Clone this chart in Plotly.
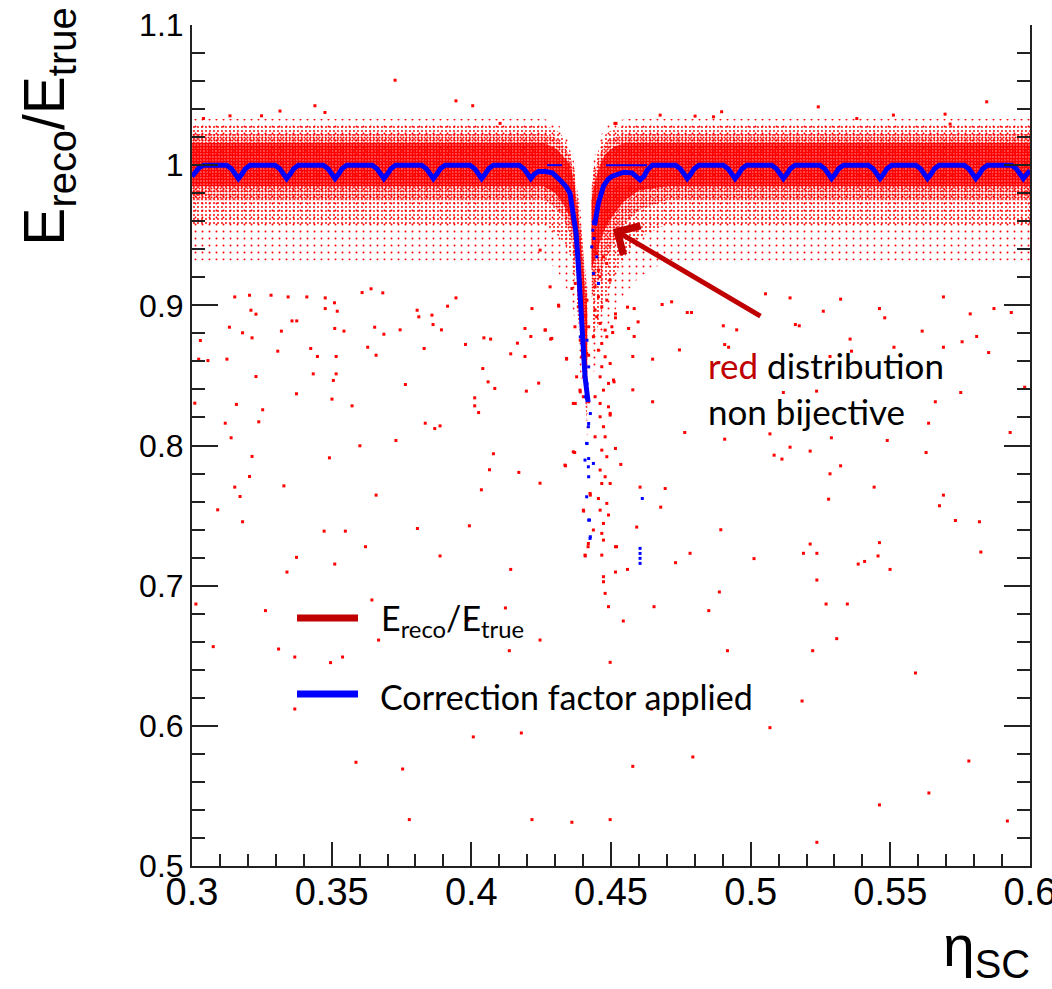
import plotly.graph_objects as go

# ---------------- data ----------------
# red dense band, left of the crack: eta and band edges for 4 density layers
band_eta_L = [0.300, 0.426, 0.430, 0.433, 0.4355, 0.437, 0.4385, 0.440, 0.4415]
core_top_L = [1.016, 1.016, 1.012, 1.006, 1.000, 0.985, 0.960, 0.930, 0.895]
core_bot_L = [0.985, 0.985, 0.980, 0.972, 0.962, 0.945, 0.905, 0.870, 0.835]
med_top_L = [1.022, 1.022, 1.020, 1.014, 1.006, 0.992, 0.968, 0.940, 0.905]
med_bot_L = [0.975, 0.975, 0.970, 0.962, 0.950, 0.932, 0.895, 0.860, 0.825]
sp_top_L = [1.028, 1.028, 1.026, 1.020, 1.010, 0.996, 0.975, 0.945, 0.910]
sp_bot_L = [0.958, 0.958, 0.952, 0.945, 0.935, 0.918, 0.885, 0.850, 0.815]
vs_top_L = [1.033, 1.033, 1.031, 1.025, 1.014, 1.000, 0.980, 0.950, 0.915]
vs_bot_L = [0.932, 0.932, 0.927, 0.917, 0.905, 0.890, 0.864, 0.834, 0.804]

# red dense band, right of the crack
band_eta_R = [0.4430, 0.4445, 0.446, 0.448, 0.451, 0.455, 0.460, 0.470, 0.600]
core_top_R = [0.975, 0.990, 1.000, 1.008, 1.013, 1.016, 1.016, 1.016, 1.016]
core_bot_R = [0.925, 0.935, 0.945, 0.955, 0.965, 0.975, 0.982, 0.985, 0.985]
med_top_R = [0.985, 0.998, 1.008, 1.016, 1.020, 1.022, 1.022, 1.022, 1.022]
med_bot_R = [0.905, 0.912, 0.920, 0.932, 0.945, 0.958, 0.968, 0.975, 0.975]
sp_top_R = [0.990, 1.004, 1.014, 1.022, 1.026, 1.028, 1.028, 1.028, 1.028]
sp_bot_R = [0.875, 0.880, 0.890, 0.905, 0.920, 0.935, 0.948, 0.958, 0.958]
vs_top_R = [0.995, 1.010, 1.020, 1.027, 1.031, 1.033, 1.033, 1.033, 1.033]
vs_bot_R = [0.850, 0.855, 0.865, 0.880, 0.895, 0.908, 0.920, 0.932, 0.932]

# isolated red points, left half (below the band)
red_left_eta = [0.3153, 0.3206, 0.3283, 0.3344, 0.3411, 0.3477, 0.3510, 0.3609, 0.3641, 0.3683,
                0.3945, 0.3915, 0.4313, 0.4217, 0.3211, 0.3229, 0.3477, 0.3520, 0.3358, 0.3375,
                0.3806, 0.3812, 0.3859, 0.3863, 0.3134, 0.3181, 0.3320, 0.3511, 0.3544, 0.3654,
                0.3687, 0.3745, 0.3893, 0.4192, 0.4265, 0.3030, 0.3215, 0.3425, 0.3629, 0.3831,
                0.3979, 0.4045, 0.4069, 0.4165, 0.4213, 0.4284, 0.3024, 0.3057, 0.3125, 0.3307,
                0.3449, 0.3516, 0.3659, 0.4141, 0.4192, 0.4341, 0.3229, 0.3434, 0.3516, 0.3506,
                0.3764, 0.4041, 0.4060, 0.4084, 0.4197, 0.4241, 0.3374, 0.3501, 0.3573, 0.3159,
                0.3010, 0.3253, 0.4012, 0.4012, 0.4026, 0.3119, 0.3239, 0.3835, 0.3869, 0.3888,
                0.3140, 0.3730, 0.3601, 0.3215, 0.3492, 0.4079, 0.3206, 0.4065, 0.4170, 0.4246,
                0.4337, 0.3153, 0.3329, 0.3172, 0.3659, 0.4036, 0.3092, 0.3181, 0.3473, 0.3549,
                0.3807, 0.3993, 0.3621, 0.3374, 0.3511, 0.3888, 0.3340, 0.4141, 0.3014, 0.3263,
                0.3644, 0.3988, 0.4122, 0.3076, 0.3310, 0.3368, 0.3496, 0.3539, 0.3668, 0.4136,
                0.4246, 0.3368, 0.4007, 0.4179, 0.3587, 0.3754, 0.3778, 0.4217, 0.4360]
red_left_val = [0.9060, 0.9072, 0.9072, 0.9060, 0.9060, 0.9053, 0.9018, 0.9091, 0.9118, 0.9089,
                0.9053, 0.8994, 0.8994, 0.8977, 0.8965, 0.8937, 0.8977, 0.8958, 0.8889, 0.8889,
                0.8965, 0.8918, 0.8930, 0.8863, 0.8844, 0.8804, 0.8816, 0.8835, 0.8816, 0.8844,
                0.8794, 0.8825, 0.8825, 0.8835, 0.8825, 0.8749, 0.8768, 0.8692, 0.8701, 0.8692,
                0.8721, 0.8768, 0.8759, 0.8730, 0.8778, 0.8759, 0.8616, 0.8606, 0.8616, 0.8673,
                0.8635, 0.8635, 0.8644, 0.8654, 0.8635, 0.8616, 0.8492, 0.8511, 0.8511, 0.8464,
                0.8435, 0.8549, 0.8454, 0.8407, 0.8388, 0.8445, 0.8369, 0.8331, 0.8283, 0.8293,
                0.8302, 0.8255, 0.8340, 0.8283, 0.8235, 0.8159, 0.8169, 0.8159, 0.8121, 0.8140,
                0.8055, 0.8036, 0.7998, 0.7922, 0.7912, 0.7941, 0.7779, 0.7827, 0.7808, 0.7731,
                0.7855, 0.7703, 0.7712, 0.7636, 0.7646, 0.7684, 0.7541, 0.7456, 0.7389, 0.7389,
                0.7408, 0.7427, 0.7278, 0.7202, 0.7154, 0.7212, 0.7097, 0.7116, 0.6869, 0.6822,
                0.6898, 0.6755, 0.6841, 0.6565, 0.6548, 0.6491, 0.6451, 0.6491, 0.6612, 0.6536,
                0.6612, 0.6120, 0.5921, 0.5949, 0.5740, 0.5692, 0.5331, 0.5331, 0.5312]

# isolated red points around the crack
red_crack_eta = [0.4390, 0.4408, 0.4396, 0.4420, 0.4390, 0.4408, 0.4420, 0.4396, 0.4402, 0.4390,
                 0.4414, 0.4372, 0.4420, 0.4370, 0.4426, 0.4402, 0.4372, 0.4384, 0.4360, 0.4414,
                 0.4408, 0.4418, 0.4449, 0.4473, 0.4485, 0.4455, 0.4461, 0.4497, 0.4443, 0.4455,
                 0.4467, 0.4485, 0.4443, 0.4449, 0.4461, 0.4479, 0.4503, 0.4437, 0.4467, 0.4485,
                 0.4455, 0.4479, 0.4497, 0.4467, 0.4461, 0.4491, 0.4509, 0.4473, 0.4443, 0.4461,
                 0.4491, 0.4461, 0.4497, 0.4473, 0.4443, 0.4479, 0.4467, 0.4485, 0.4461, 0.4479,
                 0.4467, 0.4497, 0.4455, 0.4485, 0.4461, 0.4491, 0.4473, 0.4467, 0.4473, 0.4437,
                 0.4467, 0.4473, 0.4473, 0.4479, 0.4491, 0.4520, 0.4365, 0.4389, 0.4401, 0.4377,
                 0.4413, 0.4401, 0.4395, 0.4383, 0.4371, 0.4246, 0.4264, 0.4282, 0.4288, 0.4341,
                 0.4312, 0.4335, 0.4365, 0.4425, 0.4401, 0.4419, 0.4407]
red_crack_val = [0.8989, 0.8930, 0.8894, 0.8847, 0.8751, 0.8704, 0.8644, 0.8633, 0.8490, 0.8383,
                 0.8371, 0.8300, 0.8312, 0.7950, 0.7646, 0.7532, 0.9156, 0.9108, 0.9120, 0.9037,
                 0.7212, 0.7278, 0.9370, 0.9346, 0.9299, 0.9251, 0.9204, 0.9180, 0.9132, 0.9061,
                 0.8990, 0.9037, 0.8966, 0.8918, 0.8871, 0.8823, 0.8847, 0.8776, 0.8728, 0.8776,
                 0.8680, 0.8633, 0.8585, 0.8562, 0.8490, 0.8443, 0.8467, 0.8395, 0.8348, 0.8300,
                 0.8276, 0.8205, 0.8229, 0.8134, 0.8062, 0.8062, 0.7967, 0.7920, 0.7825, 0.7777,
                 0.7729, 0.7729, 0.7622, 0.7587, 0.7539, 0.7504, 0.7444, 0.7373, 0.7325, 0.7397,
                 0.7218, 0.7064, 0.7028, 0.6945, 0.6850, 0.7278, 0.8300, 0.8395, 0.8348, 0.8490,
                 0.8657, 0.8752, 0.8871, 0.8990, 0.8847, 0.9394, 0.8823, 0.9132, 0.8764, 0.8621,
                 0.9001, 0.7860, 0.7955, 0.7658, 0.7539, 0.7301, 0.7218]

# isolated red points, right half (below the band)
red_right_eta = [0.5690, 0.5461, 0.5322, 0.5260, 0.5141, 0.5053, 0.4773, 0.4788, 0.4717, 0.4683,
                 0.4559, 0.4583, 0.4516, 0.4516, 0.4597, 0.4563, 0.4506, 0.4583, 0.4902, 0.4950,
                 0.5160, 0.5174, 0.5480, 0.5786, 0.5871, 0.5933, 0.5356, 0.5513, 0.5690, 0.5809,
                 0.5757, 0.5614, 0.4907, 0.4921, 0.4745, 0.4649, 0.4578, 0.4511, 0.5361, 0.5284,
                 0.5852, 0.5981, 0.4649, 0.4578, 0.5117, 0.5236, 0.5752, 0.5661, 0.4497, 0.4764,
                 0.4907, 0.5069, 0.5289, 0.5489, 0.5637, 0.5929, 0.4516, 0.4535, 0.5141, 0.5213,
                 0.5084, 0.5112, 0.5322, 0.5284, 0.5628, 0.5442, 0.4604, 0.4694, 0.4678, 0.4592,
                 0.4893, 0.5279, 0.5690, 0.5676, 0.5733, 0.5819, 0.4516, 0.4559, 0.4516, 0.4731,
                 0.4783, 0.5012, 0.5189, 0.5213, 0.5237, 0.5237, 0.5385, 0.5408, 0.5456, 0.5461,
                 0.5499, 0.5824, 0.4888, 0.4654, 0.4850, 0.4544, 0.5270, 0.5346, 0.5308, 0.4917,
                 0.5222, 0.4497, 0.5590, 0.5184, 0.4645, 0.5069, 0.4793, 0.4578, 0.5781, 0.5638,
                 0.5461, 0.4497, 0.5919, 0.5237]
red_right_val = [0.9060, 0.8977, 0.9044, 0.8958, 0.9053, 0.9082, 0.8949, 0.8949, 0.9025, 0.9006,
                 0.8987, 0.8977, 0.8939, 0.8911, 0.8882, 0.8835, 0.8806, 0.8778, 0.8854, 0.8825,
                 0.8863, 0.8854, 0.8911, 0.8939, 0.8977, 0.8949, 0.8759, 0.8701, 0.8701, 0.8778,
                 0.8740, 0.8816, 0.8720, 0.8701, 0.8682, 0.8616, 0.8635, 0.8454, 0.8673, 0.8635,
                 0.8663, 0.8416, 0.8312, 0.8397, 0.8378, 0.8388, 0.8378, 0.8312, 0.8217, 0.8093,
                 0.8045, 0.8083, 0.8055, 0.8036, 0.8159, 0.8093, 0.7979, 0.7865, 0.7988, 0.7960,
                 0.7931, 0.7903, 0.7855, 0.7798, 0.7950, 0.7703, 0.7703, 0.7693, 0.7560, 0.7418,
                 0.7399, 0.7617, 0.7646, 0.7570, 0.7465, 0.7456, 0.7278, 0.7116, 0.7097, 0.7164,
                 0.7231, 0.7193, 0.7231, 0.7297, 0.7231, 0.7040, 0.7154, 0.7173, 0.7212, 0.7307,
                 0.7116, 0.7240, 0.6955, 0.6850, 0.6822, 0.6748, 0.6869, 0.6869, 0.6622, 0.6536,
                 0.6536, 0.6453, 0.6377, 0.6177, 0.6120, 0.5987, 0.5778, 0.5711, 0.5749, 0.5521,
                 0.5436, 0.5331, 0.5321, 0.5169]

# isolated red points above the band
red_high_eta = [0.3440, 0.3945, 0.4005, 0.3476, 0.3315, 0.3136, 0.3041, 0.3249, 0.4514, 0.4103,
                0.5242, 0.5845, 0.5696, 0.4676, 0.4896, 0.4867, 0.4801, 0.5380, 0.5511, 0.5714,
                0.4518, 0.3727]
red_high_val = [1.0424, 1.0459, 1.0424, 1.0376, 1.0386, 1.0352, 1.0333, 1.0352, 1.0298, 1.0298,
                1.0416, 1.0452, 1.0364, 1.0357, 1.0381, 1.0345, 1.0350, 1.0333, 1.0357, 1.0293,
                1.0298, 1.0606]

# correction factor curve (blue), left of the crack
blue_eta_L = [0.3000, 0.3012, 0.3025, 0.3042,
              0.3124, 0.3141, 0.3154, 0.3166, 0.3178, 0.3191, 0.3208,
              0.3297, 0.3314, 0.3327, 0.3339, 0.3351, 0.3364, 0.3381,
              0.3470, 0.3487, 0.3500, 0.3512, 0.3524, 0.3537, 0.3554,
              0.3645, 0.3662, 0.3675, 0.3687, 0.3699, 0.3712, 0.3729,
              0.3822, 0.3839, 0.3852, 0.3864, 0.3876, 0.3889, 0.3906,
              0.3995, 0.4012, 0.4025, 0.4037, 0.4049, 0.4062, 0.4079,
              0.4171, 0.4188, 0.4201, 0.4213, 0.4225, 0.4240, 0.4265, 0.4290,
              0.4318, 0.4340, 0.4353, 0.4364, 0.4375, 0.4382, 0.4389, 0.4395,
              0.4401, 0.4407, 0.4418]
blue_val_L = [0.9920, 0.9945, 0.9980, 1.0000,
              1.0000, 0.9975, 0.9935, 0.9905, 0.9935, 0.9975, 1.0000,
              1.0000, 0.9975, 0.9935, 0.9905, 0.9935, 0.9975, 1.0000,
              1.0000, 0.9975, 0.9935, 0.9905, 0.9935, 0.9975, 1.0000,
              1.0000, 0.9975, 0.9935, 0.9905, 0.9935, 0.9975, 1.0000,
              1.0000, 0.9975, 0.9935, 0.9905, 0.9935, 0.9975, 1.0000,
              1.0000, 0.9975, 0.9935, 0.9905, 0.9935, 0.9975, 1.0000,
              1.0000, 0.9975, 0.9935, 0.9905, 0.9935, 0.9955, 0.9955, 0.9945,
              0.9893, 0.9845, 0.9800, 0.9680, 0.9515, 0.9320, 0.9110, 0.8920,
              0.8730, 0.8490, 0.8310]

# correction factor curve (blue), right of the crack
blue_eta_R = [0.4441, 0.4455, 0.4473, 0.4490, 0.4503, 0.4525, 0.4545, 0.4575, 0.4590,
              0.4604, 0.4618, 0.4630, 0.4648,
              0.4731, 0.4748, 0.4761, 0.4773, 0.4785, 0.4798, 0.4815,
              0.4902, 0.4919, 0.4932, 0.4944, 0.4956, 0.4969, 0.4986,
              0.5075, 0.5092, 0.5105, 0.5117, 0.5129, 0.5142, 0.5159,
              0.5248, 0.5265, 0.5278, 0.5290, 0.5302, 0.5315, 0.5332,
              0.5421, 0.5438, 0.5451, 0.5463, 0.5475, 0.5488, 0.5505,
              0.5591, 0.5608, 0.5621, 0.5633, 0.5645, 0.5658, 0.5675,
              0.5764, 0.5781, 0.5794, 0.5806, 0.5818, 0.5831, 0.5848,
              0.5934, 0.5951, 0.5964, 0.5976, 0.5988, 0.6000]
blue_val_R = [0.9570, 0.9730, 0.9850, 0.9900, 0.9920, 0.9940, 0.9950, 0.9945, 0.9920,
              0.9895, 0.9920, 0.9965, 1.0000,
              1.0000, 0.9975, 0.9935, 0.9905, 0.9935, 0.9975, 1.0000,
              1.0000, 0.9975, 0.9935, 0.9905, 0.9935, 0.9975, 1.0000,
              1.0000, 0.9975, 0.9935, 0.9905, 0.9935, 0.9975, 1.0000,
              1.0000, 0.9975, 0.9935, 0.9905, 0.9935, 0.9975, 1.0000,
              1.0000, 0.9975, 0.9935, 0.9905, 0.9935, 0.9975, 1.0000,
              1.0000, 0.9975, 0.9935, 0.9905, 0.9935, 0.9975, 1.0000,
              1.0000, 0.9975, 0.9935, 0.9905, 0.9935, 0.9975, 1.0000,
              1.0000, 0.9975, 0.9935, 0.9905, 0.9935, 0.9960]

# thin blue level at 1 near the crack
blue_flat_eta = [0.4271, 0.4325, None, 0.4482, 0.4629]
blue_flat_val = [1.0, 1.0, None, 1.0, 1.0]

# isolated blue points
blue_pts_eta = [0.4419, 0.4413, 0.4419, 0.4407, 0.4437, 0.4423, 0.4425, 0.4413, 0.4612, 0.4604,
                0.4604, 0.4604, 0.4604, 0.4437, 0.4435, 0.4439, 0.4431, 0.4449, 0.4437, 0.4455,
                0.4390, 0.4414, 0.4402, 0.4420, 0.4414, 0.4408, 0.4426, 0.4420, 0.4414, 0.4420,
                0.4420, 0.4420, 0.4426]
blue_pts_val = [0.8134, 0.8015, 0.7848, 0.7896, 0.7872, 0.7468, 0.7337, 0.7634, 0.7622, 0.7266,
                0.7230, 0.7195, 0.7159, 0.9596, 0.9536, 0.9477, 0.9417, 0.9346, 0.9227, 0.9156,
                0.8775, 0.8751, 0.8668, 0.8561, 0.8442, 0.8347, 0.8228, 0.8157, 0.8014, 0.7907,
                0.7777, 0.7468, 0.7349]

x_ticks = [0.3, 0.35, 0.4, 0.45, 0.5, 0.55, 0.6]
x_ticklabels = ["0.3", "0.35", "0.4", "0.45", "0.5", "0.55", "0.6"]
y_ticks = [0.5, 0.6, 0.7, 0.8, 0.9, 1.0, 1.1]
y_ticklabels = ["0.5", "0.6", "0.7", "0.8", "0.9", "1", "1.1"]

# ---------------- figure ----------------
RED = "#ff0000"
BLUE = "#0000ff"
DARKRED = "#c00000"

fig = go.Figure()


def band(eta, top, bot, size, solidity):
    xs = list(eta) + list(eta)[::-1]
    ys = list(top) + list(bot)[::-1]
    return go.Scatter(
        x=xs, y=ys, mode="lines", fill="toself", line=dict(width=0),
        fillcolor="rgba(0,0,0,0)",
        fillpattern=dict(shape=".", fgcolor=RED, bgcolor="rgba(0,0,0,0)",
                         size=size, solidity=solidity, fillmode="replace"),
        hoverinfo="skip", showlegend=False)


layers = [
    (vs_top_L, vs_bot_L, vs_top_R, vs_bot_R, 7, 0.06),
    (sp_top_L, sp_bot_L, sp_top_R, sp_bot_R, 4, 0.18),
    (med_top_L, med_bot_L, med_top_R, med_bot_R, 3, 0.40),
    (core_top_L, core_bot_L, core_top_R, core_bot_R, 3, 0.80),
]
for tl, bl, tr, br, sz, so in layers:
    fig.add_trace(band(band_eta_L, tl, bl, sz, so))
    fig.add_trace(band(band_eta_R, tr, br, sz, so))

red_marker = dict(color=RED, size=3, symbol="square", line=dict(width=0))
for ex, vy in [(red_left_eta, red_left_val), (red_crack_eta, red_crack_val),
               (red_right_eta, red_right_val), (red_high_eta, red_high_val)]:
    fig.add_trace(go.Scatter(x=ex, y=vy, mode="markers", marker=red_marker,
                             hoverinfo="skip", showlegend=False))

fig.add_trace(go.Scatter(x=blue_flat_eta, y=blue_flat_val, mode="lines",
                         line=dict(color=BLUE, width=2), hoverinfo="skip", showlegend=False))
fig.add_trace(go.Scatter(x=blue_eta_L, y=blue_val_L, mode="lines",
                         line=dict(color=BLUE, width=5), hoverinfo="skip", showlegend=False))
fig.add_trace(go.Scatter(x=blue_eta_R, y=blue_val_R, mode="lines",
                         line=dict(color=BLUE, width=5), hoverinfo="skip", showlegend=False))
fig.add_trace(go.Scatter(x=blue_pts_eta, y=blue_pts_val, mode="markers",
                         marker=dict(color=BLUE, size=3, symbol="square", line=dict(width=0)),
                         hoverinfo="skip", showlegend=False))

AX = "#222222"
fig.update_xaxes(
    range=[0.3, 0.6], tickvals=x_ticks, ticktext=x_ticklabels, automargin=False,
    ticks="inside", ticklen=24, tickwidth=1.5, tickcolor=AX,
    minor=dict(dtick=0.01, ticks="inside", ticklen=12, tickwidth=1.5, tickcolor=AX),
    showline=True, linecolor=AX, linewidth=2, showgrid=False, zeroline=False,
    tickfont=dict(family="Liberation Sans, Arial, sans-serif", size=38, color="black"),
    ticklabelstandoff=-9, ticklabeloverflow="allow",
)
fig.update_yaxes(
    range=[0.5, 1.1], tickvals=y_ticks, ticktext=y_ticklabels, automargin=False,
    ticks="inside", ticklen=26, tickwidth=1.5, tickcolor=AX,
    minor=dict(dtick=0.02, ticks="inside", ticklen=13, tickwidth=1.5, tickcolor=AX),
    showline=True, linecolor=AX, linewidth=2, mirror="ticks", showgrid=False, zeroline=False,
    tickfont=dict(family="Liberation Sans, Arial, sans-serif", size=32, color="black"),
)

TFONT = "Liberation Sans, Arial, sans-serif"
LFONT = "Lato, Open Sans, sans-serif"
annotations = [
    dict(text="E<sub>reco</sub>/E<sub>true</sub>", textangle=-90, xref="paper", yref="paper",
         x=-0.172, y=0.879, xanchor="center", yanchor="middle", showarrow=False,
         font=dict(family=TFONT, size=57, color="black")),
    dict(text="η<sub>SC</sub>", xref="paper", yref="paper", x=0.9475, y=-0.100,
         xanchor="center", yanchor="middle", showarrow=False,
         font=dict(family=TFONT, size=57, color="black")),
    dict(text="E<sub>reco</sub>/E<sub>true</sub>", xref="paper", yref="paper",
         x=(379 - 192) / 838, y=(866 - 620) / 841, xanchor="left", yanchor="middle",
         showarrow=False, font=dict(family=LFONT, size=34, color="black")),
    dict(text="Correction factor applied", xref="paper", yref="paper",
         x=(378 - 192) / 838, y=(866 - 696) / 841, xanchor="left", yanchor="middle",
         showarrow=False, font=dict(family=LFONT, size=34, color="black")),
    dict(text="<span style='color:#c00000'>red</span> distribution<br>non bijective",
         xref="paper", yref="paper", x=(706 - 192) / 838, y=(866 - 342) / 841,
         xanchor="left", yanchor="top", align="left", showarrow=False,
         font=dict(family=LFONT, size=35, color="black")),
    dict(text="", x=0.4507, y=0.9544, xref="x", yref="y", showarrow=True,
         ax=149, ay=88, arrowcolor=DARKRED, arrowwidth=5, arrowhead=4, arrowsize=1.3,
         standoff=0),
]

shapes = [
    dict(type="line", xref="paper", yref="paper", x0=(297 - 192) / 838, x1=(358 - 192) / 838,
         y0=(866 - 618) / 841, y1=(866 - 618) / 841, line=dict(color=DARKRED, width=7)),
    dict(type="line", xref="paper", yref="paper", x0=(297 - 192) / 838, x1=(358 - 192) / 838,
         y0=(866 - 694) / 841, y1=(866 - 694) / 841, line=dict(color=BLUE, width=7)),
]

fig.update_layout(
    width=1052, height=989,
    margin=dict(l=192, r=22, t=25, b=123, autoexpand=False),
    plot_bgcolor="white", paper_bgcolor="white",
    showlegend=False, annotations=annotations, shapes=shapes,
)

fig.write_html("out.html")
